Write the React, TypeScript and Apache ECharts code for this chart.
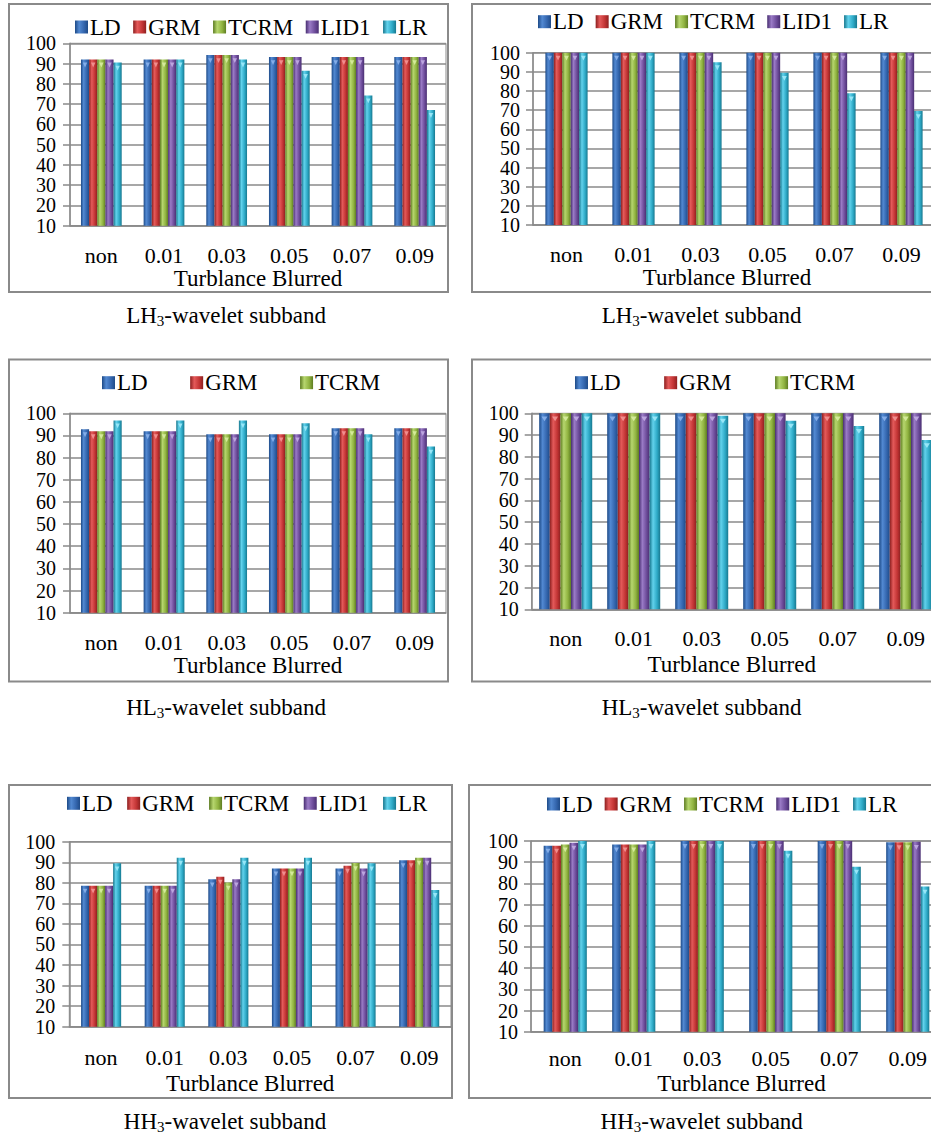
import React, { useEffect, useRef } from 'react';
import * as echarts from 'echarts';

const FONT = 'Liberation Serif';
const LINE = '#8a8a8a';

const CATEGORIES = ['non', '0.01', '0.03', '0.05', '0.07', '0.09'];
const SERIES_NAMES = ['LD', 'GRM', 'TCRM', 'LID1', 'LR'];
const LEGEND_SHORT = ['LD', 'GRM', 'TCRM'];
const AXIS_NAME = 'Turblance Blurred';

// LH3 – left
const LH3A_LD = [92, 92, 94.2, 93.2, 93.2, 93.2];
const LH3A_GRM = [92, 92, 94.2, 93.2, 93.2, 93.2];
const LH3A_TCRM = [92, 92, 94.2, 93.2, 93.2, 93.2];
const LH3A_LID1 = [92, 92, 94.2, 93.2, 93.2, 93.2];
const LH3A_LR = [90.5, 92, 92, 86.4, 74.3, 67.1];
// LH3 – right
const LH3B_LD = [100, 100, 100, 100, 100, 100];
const LH3B_GRM = [100, 100, 100, 100, 100, 100];
const LH3B_TCRM = [100, 100, 100, 100, 100, 100];
const LH3B_LID1 = [100, 100, 100, 100, 100, 100];
const LH3B_LR = [100, 100, 95, 89.5, 78.8, 69.5];
// HL3 – left
const HL3A_LD = [92.8, 91.9, 90.5, 90.5, 93.3, 93.3];
const HL3A_GRM = [91.9, 91.9, 90.5, 90.5, 93.3, 93.3];
const HL3A_TCRM = [91.9, 91.9, 90.5, 90.5, 93.3, 93.3];
const HL3A_LID1 = [91.9, 91.9, 90.5, 90.5, 93.3, 93.3];
const HL3A_LR = [96.8, 96.8, 96.8, 95.5, 90.5, 85];
// HL3 – right
const HL3B_LD = [100, 100, 100, 100, 100, 100];
const HL3B_GRM = [100, 100, 100, 100, 100, 100];
const HL3B_TCRM = [100, 100, 100, 100, 100, 100];
const HL3B_LID1 = [100, 100, 100, 100, 100, 100];
const HL3B_LR = [100, 100, 98.9, 96.6, 94.2, 87.7];
// HH3 – left
const HH3A_LD = [78.6, 78.6, 81.7, 87, 87, 91];
const HH3A_GRM = [78.6, 78.6, 83, 87, 88.3, 91];
const HH3A_TCRM = [78.6, 78.6, 80.1, 87, 89.6, 92.2];
const HH3A_LID1 = [78.6, 78.6, 81.7, 87, 87, 92.2];
const HH3A_LR = [89.5, 92.2, 92.2, 92.2, 89.5, 76.5];
// HH3 – right
const HH3B_LD = [97.8, 98.4, 100, 100, 100, 99.4];
const HH3B_GRM = [97.8, 98.4, 100, 100, 100, 99.4];
const HH3B_TCRM = [98.4, 98.4, 100, 100, 100, 99.4];
const HH3B_LID1 = [99.2, 98.4, 100, 100, 100, 99.6];
const HH3B_LR = [100, 100, 100, 95.4, 87.9, 78.5];

const Y_MIN = 10;
const Y_MAX = 100;
const Y_STEP = 10;

const BAR_SHADES = [
  ['#1d4a87', '#5289d2', '#3466ae', '#1f4b88'],
  ['#8c1e1e', '#e45a5a', '#c33535', '#8e2020'],
  ['#5c7b20', '#b6d66e', '#90b340', '#5e7d22'],
  ['#472d70', '#9a7bc6', '#6e4d9b', '#4a2f72'],
  ['#15758c', '#62d2ec', '#2eaac7', '#17788f'],
];
const CAP_SHADES = ['#8fb6ee', '#f59a9a', '#dcf0a6', '#c6b0e6', '#a4ecfb'];

const barColor = (i: number) =>
  new echarts.graphic.LinearGradient(0, 0, 1, 0, [
    { offset: 0, color: BAR_SHADES[i][0] },
    { offset: 0.32, color: BAR_SHADES[i][1] },
    { offset: 0.7, color: BAR_SHADES[i][2] },
    { offset: 1, color: BAR_SHADES[i][3] },
  ]);

type Panel = {
  sub: string;
  series: number[][];
  legendNames: string[];
  box: [number, number, number, number];
  grid: { left: number; top: number; width: number; height: number };
  legend: { left: number; cy: number; gap: number };
  yMargin: number;
  xMargin: number;
  nameGap: number;
  namePad: number[];
  catGap: string;
  caption: [number, number];
};

const PANELS: Panel[] = [
  {
    sub: 'LH',
    series: [LH3A_LD, LH3A_GRM, LH3A_TCRM, LH3A_LID1, LH3A_LR],
    legendNames: SERIES_NAMES,
    box: [9, 4, 439, 288],
    grid: { left: 70, top: 43.3, width: 376, height: 182.4 },
    legend: { left: 75, cy: 27, gap: 12.5 },
    yMargin: 14,
    xMargin: 18.5,
    nameGap: 35,
    namePad: [0, 0, 0, 0],
    catGap: '35%',
    caption: [226, 315],
  },
  {
    sub: 'LH',
    series: [LH3B_LD, LH3B_GRM, LH3B_TCRM, LH3B_LID1, LH3B_LR],
    legendNames: SERIES_NAMES,
    box: [472, 4, 520, 288],
    grid: { left: 533, top: 52.7, width: 402, height: 172.3 },
    legend: { left: 538, cy: 21.7, gap: 12 },
    yMargin: 13,
    xMargin: 18.5,
    nameGap: 37,
    namePad: [0, 14, 0, 0],
    catGap: '37%',
    caption: [701.5, 315],
  },
  {
    sub: 'HL',
    series: [HL3A_LD, HL3A_GRM, HL3A_TCRM, HL3A_LID1, HL3A_LR],
    legendNames: LEGEND_SHORT,
    box: [9, 359.5, 439, 322],
    grid: { left: 70, top: 413.3, width: 376, height: 199.4 },
    legend: { left: 102, cy: 382.7, gap: 42.5 },
    yMargin: 14,
    xMargin: 18.5,
    nameGap: 41,
    namePad: [0, 0, 0, 0],
    catGap: '35%',
    caption: [226, 707],
  },
  {
    sub: 'HL',
    series: [HL3B_LD, HL3B_GRM, HL3B_TCRM, HL3B_LID1, HL3B_LR],
    legendNames: LEGEND_SHORT,
    box: [472, 359.5, 520, 322],
    grid: { left: 531.7, top: 413.3, width: 408, height: 196 },
    legend: { left: 575, cy: 382.7, gap: 43.5 },
    yMargin: 13,
    xMargin: 18,
    nameGap: 44,
    namePad: [0, 8, 0, 0],
    catGap: '22%',
    caption: [701.5, 707],
  },
  {
    sub: 'HH',
    series: [HH3A_LD, HH3A_GRM, HH3A_TCRM, HH3A_LID1, HH3A_LR],
    legendNames: SERIES_NAMES,
    box: [9, 785, 443, 313],
    grid: { left: 69.3, top: 841.7, width: 381.7, height: 185 },
    legend: { left: 67, cy: 803.3, gap: 14.5 },
    yMargin: 14,
    xMargin: 19.5,
    nameGap: 45,
    namePad: [0, 20, 0, 0],
    catGap: '37%',
    caption: [225, 1121.7],
  },
  {
    sub: 'HH',
    series: [HH3B_LD, HH3B_GRM, HH3B_TCRM, HH3B_LID1, HH3B_LR],
    legendNames: SERIES_NAMES,
    box: [469, 785, 520, 313],
    grid: { left: 531, top: 841, width: 411, height: 190.7 },
    legend: { left: 547, cy: 804, gap: 12 },
    yMargin: 13,
    xMargin: 15.8,
    nameGap: 40,
    namePad: [0, 0, 0, 10],
    catGap: '37%',
    caption: [701.7, 1121.7],
  },
];

const textBase = { fontFamily: FONT, fontSize: 23, color: '#000' };

function buildOption() {
  const grid: any[] = [];
  const xAxis: any[] = [];
  const yAxis: any[] = [];
  const legend: any[] = [];
  const series: any[] = [];
  const graphic: any[] = [];

  const yLabel = (p: Panel, odd: boolean) => ({
    fontFamily: FONT,
    fontSize: 20,
    color: '#000',
    margin: p.yMargin,
    showMinLabel: true,
    showMaxLabel: true,
    formatter: (v: number) => ((Math.round(v / Y_STEP) % 2 === 1) === odd ? String(v) : ''),
  });

  PANELS.forEach((p, pi) => {
    grid.push({
      ...p.grid,
      show: true,
      borderColor: LINE,
      borderWidth: 1,
      backgroundColor: 'transparent',
      containLabel: false,
      outerBoundsMode: 'none',
    });
    xAxis.push({
      type: 'category',
      gridIndex: pi,
      data: CATEGORIES,
      axisLine: { show: true, lineStyle: { color: LINE, width: 1.5 } },
      axisTick: { show: false },
      axisLabel: { ...textBase, fontSize: 22, margin: p.xMargin, interval: 0 },
      name: AXIS_NAME,
      nameLocation: 'middle',
      nameGap: p.nameGap,
      nameTextStyle: { ...textBase, padding: p.namePad },
    });
    // main value axis (odd tens labelled)
    yAxis.push({
      type: 'value',
      gridIndex: pi,
      min: Y_MIN,
      max: Y_MAX,
      interval: Y_STEP,
      axisLine: { show: true, lineStyle: { color: LINE, width: 1.5 } },
      axisTick: { show: true, length: 7, lineStyle: { color: LINE, width: 1.5 } },
      splitLine: { show: true, lineStyle: { color: LINE, width: 1.5 } },
      axisLabel: yLabel(p, true),
    });
    // overlay axis on the same scale (even tens labelled)
    yAxis.push({
      type: 'value',
      gridIndex: pi,
      min: Y_MIN,
      max: Y_MAX,
      interval: Y_STEP,
      position: 'left',
      offset: 0,
      axisLine: { show: false },
      axisTick: { show: false },
      splitLine: { show: false },
      axisLabel: yLabel(p, false),
    });
    legend.push({
      data: p.legendNames,
      left: p.legend.left,
      top: p.legend.cy - 11.5,
      itemGap: p.legend.gap,
      itemWidth: 13,
      itemHeight: 13,
      icon: 'rect',
      padding: 0,
      selectedMode: false,
      textStyle: { ...textBase, padding: [0, 0, 0, -3] },
    });
    p.series.forEach((vals, si) => {
      series.push({
        type: 'bar',
        name: SERIES_NAMES[si],
        xAxisIndex: pi,
        yAxisIndex: pi * 2,
        data: vals,
        barGap: '0%',
        barCategoryGap: p.catGap,
        clip: true,
        silent: true,
        itemStyle: { color: barColor(si) },
      });
    });
    // small bevel caps on the bar tops (same layout as the bars)
    p.series.forEach((vals, si) => {
      series.push({
        type: 'pictorialBar',
        name: SERIES_NAMES[si] + ' cap',
        xAxisIndex: pi,
        yAxisIndex: pi * 2,
        data: vals,
        barGap: '0%',
        barCategoryGap: p.catGap,
        symbol: 'triangle',
        symbolRotate: 180,
        symbolSize: ['55%', 5],
        symbolPosition: 'end',
        symbolOffset: [0, 3],
        silent: true,
        z: 3,
        itemStyle: { color: CAP_SHADES[si], opacity: 0.85 },
      });
    });
    graphic.push({
      type: 'rect',
      silent: true,
      shape: { x: p.box[0], y: p.box[1], width: p.box[2], height: p.box[3] },
      style: { fill: 'none', stroke: LINE, lineWidth: 2 },
    });
    graphic.push({
      type: 'text',
      silent: true,
      x: p.caption[0],
      y: p.caption[1],
      style: {
        text: `{a|${p.sub}}{s|3}{a|-wavelet subband}`,
        textAlign: 'center',
        textVerticalAlign: 'middle',
        fill: '#000',
        fontFamily: FONT,
        fontSize: 23,
        rich: {
          a: { fontFamily: FONT, fontSize: 23, lineHeight: 26, fill: '#000' },
          s: { fontFamily: FONT, fontSize: 15, lineHeight: 10, verticalAlign: 'bottom', fill: '#000' },
        },
      },
    });
  });

  return {
    animation: false,
    backgroundColor: '#fff',
    textStyle: { fontFamily: FONT },
    grid,
    xAxis,
    yAxis,
    legend,
    series,
    graphic,
  };
}

export default function App() {
  const ref = useRef<HTMLDivElement>(null);
  useEffect(() => {
    if (!ref.current) return;
    const chart = echarts.init(ref.current, undefined, { renderer: 'svg' });
    chart.setOption(buildOption() as any);
    return () => chart.dispose();
  }, []);
  return (
    <div
      style={{
        position: 'fixed',
        left: 0,
        top: 0,
        width: 931,
        height: 1138,
        overflow: 'hidden',
        background: '#fff',
      }}
    >
      <div ref={ref} style={{ width: 960, height: 1138 }} />
    </div>
  );
}
